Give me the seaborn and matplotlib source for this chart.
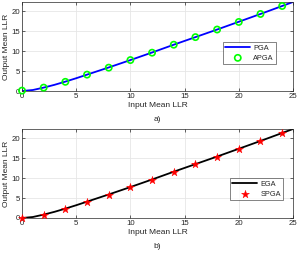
import matplotlib
matplotlib.use("Agg")
import matplotlib.pyplot as plt
import seaborn as sns
import pandas as pd

sns.set_style("whitegrid")
plt.rcParams['font.family'] = ['Liberation Sans', 'DejaVu Sans']

# curve values
x_line = [0, 1, 2, 3, 4, 5, 6, 8, 10, 12, 14, 16, 18, 20, 22, 24, 25]
y_line = [0, 0.25, 0.85, 1.55, 2.35, 3.2, 4.1, 5.9, 7.75, 9.65, 11.6, 13.5, 15.4, 17.35, 19.3, 21.3, 22.3]
# marker values
x_pts = [0, 2, 4, 6, 8, 10, 12, 14, 16, 18, 20, 22, 24]
y_apga = [0.1, 0.85, 2.3, 4.1, 5.85, 7.75, 9.6, 11.6, 13.5, 15.4, 17.3, 19.3, 21.3]
y_spga = [0.1, 0.85, 2.3, 4.1, 5.85, 7.75, 9.6, 11.6, 13.5, 15.4, 17.3, 19.3, 21.3]

xticks = [0, 5, 10, 15, 20, 25]
yticks = [0, 5, 10, 15, 20]

df_line = pd.DataFrame({'x': x_line, 'y': y_line})
df_pts = pd.DataFrame({'x': x_pts, 'a': y_apga, 's': y_spga})

fig = plt.figure(figsize=(3.0, 2.54), dpi=100)
W, H = 300, 254
ax1 = fig.add_axes([22 / W, 1 - 91 / H, 271 / W, 89 / H])
ax2 = fig.add_axes([22 / W, 1 - 218 / H, 271 / W, 89 / H])

fs = 5.6
TC = '#262626'

def style(ax, label):
    ax.set_xlim(0, 25)
    ax.set_ylim(0, 22.3)
    ax.set_xticks(xticks)
    ax.set_yticks(yticks)
    ax.grid(True, color='#e6e6e6', linewidth=0.6)
    ax.tick_params(direction='in', length=2, width=0.5, labelsize=fs, colors=TC,
                   top=True, right=True, bottom=True, left=True, pad=1.5,
                   labelcolor=TC)
    for sp in ax.spines.values():
        sp.set_color(TC)
        sp.set_linewidth(0.5)
    ax.set_xlabel('Input Mean LLR', fontsize=fs + 0.4, labelpad=1.5, color=TC)
    ax.set_ylabel('Output Mean LLR', fontsize=fs + 0.4, labelpad=1, color=TC)
    ax.text(0.5, -0.325, label, transform=ax.transAxes, ha='center', va='center',
            fontsize=fs + 0.4, color=TC)

sns.lineplot(data=df_line, x='x', y='y', ax=ax1, color='#0000ff', linewidth=1.3, label='PGA')
sns.scatterplot(data=df_pts, x='x', y='a', ax=ax1, marker='o', s=20, facecolors='none',
                edgecolor='#00ff00', linewidth=1.2, label='APGA', zorder=3, clip_on=False)
style(ax1, 'a)')
leg = ax1.legend(loc='lower right', bbox_to_anchor=(0.952, 0.258), fontsize=fs - 0.3,
                 frameon=True, fancybox=False, edgecolor=TC, handlelength=3.4,
                 borderpad=0.35, labelspacing=0.35, handletextpad=0.4)
leg.get_frame().set_linewidth(0.5)

sns.lineplot(data=df_line, x='x', y='y', ax=ax2, color='black', linewidth=1.3, label='EGA')
sns.scatterplot(data=df_pts, x='x', y='s', ax=ax2, marker='*', s=36, color='#ff0000',
                edgecolor='#ff0000', linewidth=0.3, label='SPGA', zorder=3, clip_on=False)
style(ax2, 'b)')
leg2 = ax2.legend(loc='lower right', bbox_to_anchor=(0.978, 0.157), fontsize=fs - 0.3,
                  frameon=True, fancybox=False, edgecolor=TC, handlelength=3.4,
                  borderpad=0.35, labelspacing=0.35, handletextpad=0.4)
leg2.get_frame().set_linewidth(0.5)

fig.savefig('out.png', dpi=100)
